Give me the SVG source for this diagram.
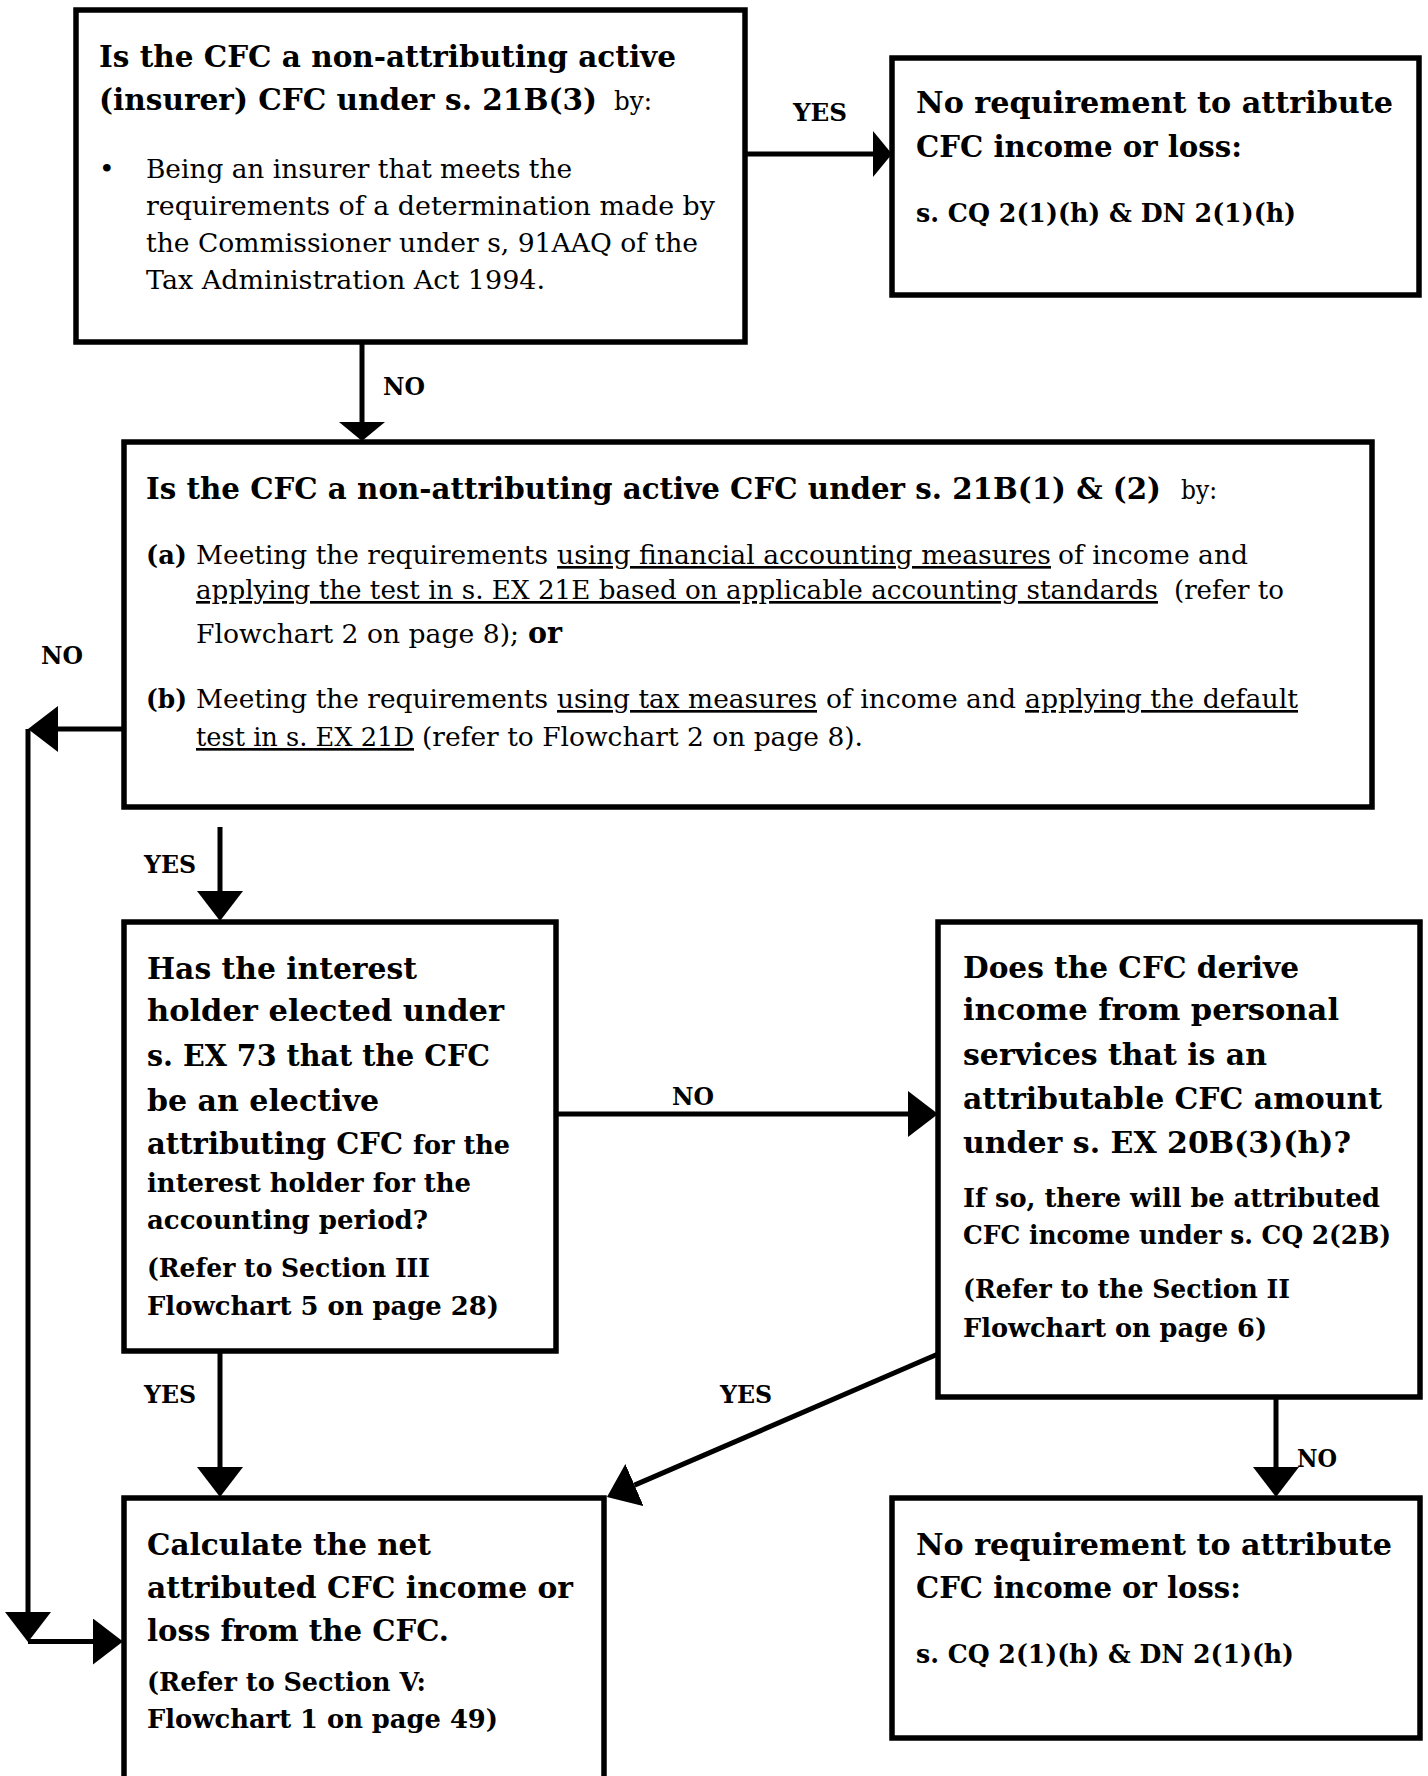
<svg xmlns="http://www.w3.org/2000/svg" width="1428" height="1776" viewBox="0 0 1428 1776">
<defs>
<style>
text{font-family:"DejaVu Serif","Liberation Serif",serif;fill:#000}
.b{font-weight:bold;font-size:30.5px}
.s{font-weight:bold;font-size:26px}
.r{font-weight:normal;font-size:26.5px}
.l{font-weight:bold;font-size:25px}
.u{text-decoration:underline}
.box{fill:#fff;stroke:#000;stroke-width:5.5}
.con{fill:none;stroke:#000;stroke-width:5}
</style>
<marker id="ah" viewBox="0 -23 30 46" refX="0" refY="0" markerWidth="30" markerHeight="46" markerUnits="userSpaceOnUse" orient="auto"><path d="M0,-23 L30,0 L0,23 Z" fill="#000"/></marker>
<marker id="ahs" viewBox="0 -23 19 46" refX="0" refY="0" markerWidth="19" markerHeight="46" markerUnits="userSpaceOnUse" orient="auto"><path d="M0,-23 L19,0 L0,23 Z" fill="#000"/></marker>
</defs>
<rect width="1428" height="1776" fill="#fff"/>

<g id="connectors">
<path class="con" d="M745,154 H873" marker-end="url(#ahs)"/>
<path class="con" d="M362,342 V422" marker-end="url(#ahs)"/>
<path class="con" d="M124,729 H58" marker-end="url(#ah)"/>
<path class="con" d="M28,729 V1612"  marker-end="url(#ah)"/>
<path class="con" d="M28,1641.5 H93" marker-end="url(#ah)"/>
<path class="con" d="M220,827 V891" marker-end="url(#ah)"/>
<path class="con" d="M556,1114 H908" marker-end="url(#ah)"/>
<path class="con" d="M220,1351 V1467" marker-end="url(#ah)"/>
<path class="con" d="M938,1354 L634.5,1485.1" marker-end="url(#ah)"/>
<path class="con" d="M1276,1396 V1467" marker-end="url(#ah)"/>
<text class="l" x="793" y="121" textLength="54" lengthAdjust="spacingAndGlyphs">YES</text>
<text class="l" x="383" y="395" textLength="42" lengthAdjust="spacingAndGlyphs">NO</text>
<text class="l" x="41" y="664" textLength="42" lengthAdjust="spacingAndGlyphs">NO</text>
<text class="l" x="144" y="873" textLength="52" lengthAdjust="spacingAndGlyphs">YES</text>
<text class="l" x="672" y="1105" textLength="42" lengthAdjust="spacingAndGlyphs">NO</text>
<text class="l" x="144" y="1403" textLength="52" lengthAdjust="spacingAndGlyphs">YES</text>
<text class="l" x="720" y="1403" textLength="52" lengthAdjust="spacingAndGlyphs">YES</text>
<text class="l" x="1297" y="1467" textLength="40" lengthAdjust="spacingAndGlyphs">NO</text>
</g>

<g id="n1">
<rect class="box" x="76" y="10" width="669" height="332"/>
<text class="b" x="99" y="67" textLength="577" lengthAdjust="spacingAndGlyphs">Is the CFC a non-attributing active</text>
<text class="b" x="99" y="110" textLength="498" lengthAdjust="spacingAndGlyphs">(insurer) CFC under s. 21B(3)</text>
<text class="r" x="614" y="110" textLength="38" lengthAdjust="spacingAndGlyphs">by:</text>
<text class="r" x="99" y="178">•</text>
<text class="r" x="146" y="178" textLength="426" lengthAdjust="spacingAndGlyphs">Being an insurer that meets the</text>
<text class="r" x="146" y="215" textLength="569" lengthAdjust="spacingAndGlyphs">requirements of a determination made by</text>
<text class="r" x="146" y="252" textLength="552" lengthAdjust="spacingAndGlyphs">the Commissioner under s, 91AAQ of the</text>
<text class="r" x="146" y="289" textLength="399" lengthAdjust="spacingAndGlyphs">Tax Administration Act 1994.</text>
</g>

<g id="n2">
<rect class="box" x="892" y="58" width="527" height="237"/>
<text class="b" x="916" y="113" textLength="477" lengthAdjust="spacingAndGlyphs">No requirement to attribute</text>
<text class="b" x="916" y="157" textLength="326" lengthAdjust="spacingAndGlyphs">CFC income or loss:</text>
<text class="s" x="916" y="222" textLength="380" lengthAdjust="spacingAndGlyphs">s. CQ 2(1)(h) &amp; DN 2(1)(h)</text>
</g>

<g id="n3">
<rect class="box" x="124" y="442" width="1248" height="365"/>
<text class="b" x="146" y="499" textLength="1015" lengthAdjust="spacingAndGlyphs" style="font-size:29px">Is the CFC a non-attributing active CFC under s. 21B(1) &amp; (2)</text>
<text class="r" x="1181" y="499" textLength="36" lengthAdjust="spacingAndGlyphs">by:</text>
<text class="s" x="146" y="564" textLength="41" lengthAdjust="spacingAndGlyphs">(a)</text>
<text class="r" x="196" y="564" textLength="352" lengthAdjust="spacingAndGlyphs">Meeting the requirements</text>
<text class="r u" x="557" y="564" textLength="494" lengthAdjust="spacingAndGlyphs">using financial accounting measures</text>
<text class="r" x="1058" y="564" textLength="190" lengthAdjust="spacingAndGlyphs">of income and</text>
<text class="r u" x="196" y="599" textLength="962" lengthAdjust="spacingAndGlyphs">applying the test in s. EX 21E based on applicable accounting standards</text>
<text class="r" x="1174" y="599" textLength="110" lengthAdjust="spacingAndGlyphs">(refer to</text>
<text class="r" x="196" y="643" textLength="323" lengthAdjust="spacingAndGlyphs">Flowchart 2 on page 8);</text>
<text class="b" x="528" y="643" textLength="34" lengthAdjust="spacingAndGlyphs">or</text>
<text class="s" x="146" y="708" textLength="41" lengthAdjust="spacingAndGlyphs">(b)</text>
<text class="r" x="196" y="708" textLength="352" lengthAdjust="spacingAndGlyphs">Meeting the requirements</text>
<text class="r u" x="557" y="708" textLength="260" lengthAdjust="spacingAndGlyphs">using tax measures</text>
<text class="r" x="826" y="708" textLength="190" lengthAdjust="spacingAndGlyphs">of income and</text>
<text class="r u" x="1025" y="708" textLength="273" lengthAdjust="spacingAndGlyphs">applying the default</text>
<text class="r u" x="196" y="746" textLength="218" lengthAdjust="spacingAndGlyphs">test in s. EX 21D</text>
<text class="r" x="422" y="746" textLength="441" lengthAdjust="spacingAndGlyphs">(refer to Flowchart 2 on page 8).</text>
</g>

<g id="n4">
<rect class="box" x="124" y="922" width="432" height="429"/>
<text class="b" x="147" y="979" textLength="270" lengthAdjust="spacingAndGlyphs">Has the interest</text>
<text class="b" x="147" y="1021" textLength="357" lengthAdjust="spacingAndGlyphs">holder elected under</text>
<text class="b" x="147" y="1066" textLength="343" lengthAdjust="spacingAndGlyphs">s. EX 73 that the CFC</text>
<text class="b" x="147" y="1111" textLength="232" lengthAdjust="spacingAndGlyphs">be an elective</text>
<text class="b" x="147" y="1154" textLength="256" lengthAdjust="spacingAndGlyphs">attributing CFC</text>
<text class="s" x="413" y="1154" textLength="97" lengthAdjust="spacingAndGlyphs">for the</text>
<text class="s" x="147" y="1192" textLength="324" lengthAdjust="spacingAndGlyphs">interest holder for the</text>
<text class="s" x="147" y="1229" textLength="281" lengthAdjust="spacingAndGlyphs">accounting period?</text>
<text class="s" x="147" y="1277" textLength="283" lengthAdjust="spacingAndGlyphs">(Refer to Section III</text>
<text class="s" x="147" y="1315" textLength="352" lengthAdjust="spacingAndGlyphs">Flowchart 5 on page 28)</text>
</g>

<g id="n5">
<rect class="box" x="938" y="922" width="482" height="475"/>
<text class="b" x="963" y="978" textLength="336" lengthAdjust="spacingAndGlyphs">Does the CFC derive</text>
<text class="b" x="963" y="1020" textLength="376" lengthAdjust="spacingAndGlyphs">income from personal</text>
<text class="b" x="963" y="1065" textLength="304" lengthAdjust="spacingAndGlyphs">services that is an</text>
<text class="b" x="963" y="1109" textLength="419" lengthAdjust="spacingAndGlyphs">attributable CFC amount</text>
<text class="b" x="963" y="1153" textLength="388" lengthAdjust="spacingAndGlyphs">under s. EX 20B(3)(h)?</text>
<text class="s" x="963" y="1207" textLength="417" lengthAdjust="spacingAndGlyphs">If so, there will be attributed</text>
<text class="s" x="963" y="1244" textLength="428" lengthAdjust="spacingAndGlyphs">CFC income under s. CQ 2(2B)</text>
<text class="s" x="963" y="1298" textLength="327" lengthAdjust="spacingAndGlyphs">(Refer to the Section II</text>
<text class="s" x="963" y="1337" textLength="304" lengthAdjust="spacingAndGlyphs">Flowchart on page 6)</text>
</g>

<g id="n6">
<rect class="box" x="124" y="1498" width="480" height="320"/>
<text class="b" x="147" y="1555" textLength="284" lengthAdjust="spacingAndGlyphs">Calculate the net</text>
<text class="b" x="147" y="1598" textLength="426" lengthAdjust="spacingAndGlyphs">attributed CFC income or</text>
<text class="b" x="147" y="1641" textLength="302" lengthAdjust="spacingAndGlyphs">loss from the CFC.</text>
<text class="s" x="147" y="1691" textLength="279" lengthAdjust="spacingAndGlyphs">(Refer to Section V:</text>
<text class="s" x="147" y="1728" textLength="351" lengthAdjust="spacingAndGlyphs">Flowchart 1 on page 49)</text>
</g>

<g id="n7">
<rect class="box" x="892" y="1498" width="528" height="240"/>
<text class="b" x="916" y="1555" textLength="476" lengthAdjust="spacingAndGlyphs">No requirement to attribute</text>
<text class="b" x="916" y="1598" textLength="325" lengthAdjust="spacingAndGlyphs">CFC income or loss:</text>
<text class="s" x="916" y="1663" textLength="378" lengthAdjust="spacingAndGlyphs">s. CQ 2(1)(h) &amp; DN 2(1)(h)</text>
</g>
</svg>
